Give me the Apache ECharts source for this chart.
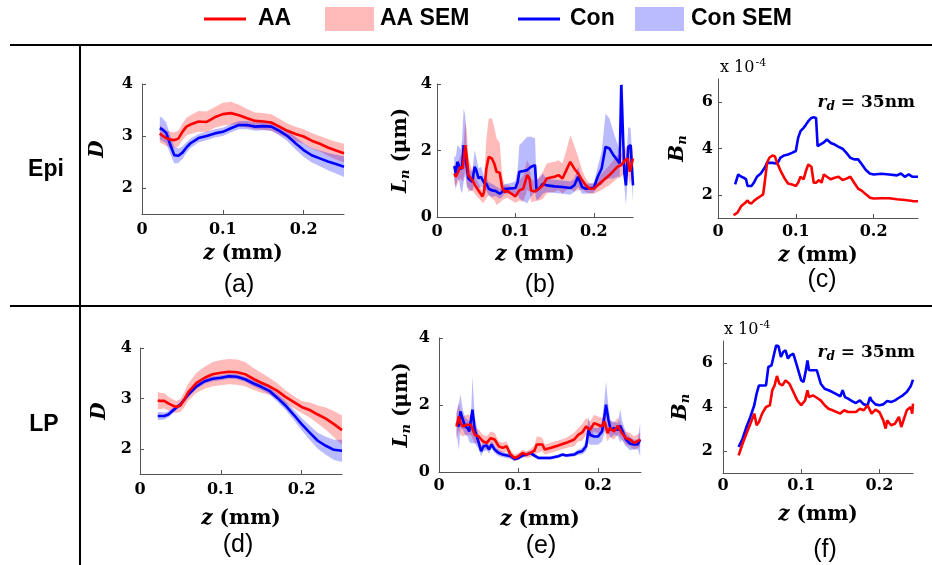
<!DOCTYPE html>
<html><head><meta charset="utf-8">
<script src="https://cdn.jsdelivr.net/npm/echarts@6/dist/echarts.min.js"></script>
<style>html,body{margin:0;padding:0;background:#fff}#c{width:932px;height:565px}</style>
</head><body><div id="c"></div>
<script>
// ---------- tick values / labels ----------
const xTicks = [0, 0.1, 0.2];
const xTickLabels = ['0', '0.1', '0.2'];
const yTicksD = [2, 3, 4];
const yTicksL = [0, 2, 4];
const yTicksB = [2, 4, 6];

// ---------- (a) Epi, D ----------
const zA = [0.022,0.025,0.030,0.035,0.040,0.045,0.050,0.055,0.060,0.070,0.080,0.090,0.100,0.110,0.120,0.130,0.140,0.150,0.160,0.170,0.180,0.190,0.200,0.210,0.220,0.230,0.240,0.250];
const aaMeanA = [3.05,3.01,2.96,2.93,2.92,2.95,3.08,3.18,3.22,3.28,3.27,3.36,3.42,3.44,3.40,3.34,3.29,3.28,3.26,3.18,3.10,3.04,2.99,2.91,2.85,2.78,2.72,2.67];
const aaSemA = [0.17,0.16,0.15,0.15,0.15,0.15,0.16,0.17,0.18,0.2,0.2,0.2,0.22,0.22,0.2,0.18,0.16,0.16,0.16,0.15,0.14,0.14,0.14,0.15,0.15,0.16,0.17,0.18];
const conMeanA = [3.15,3.13,3.06,2.83,2.63,2.62,2.68,2.78,2.86,2.96,3.0,3.05,3.08,3.15,3.21,3.21,3.18,3.19,3.18,3.10,3.0,2.86,2.73,2.63,2.57,2.51,2.46,2.41];
const conSemA = [0.22,0.22,0.2,0.18,0.16,0.14,0.12,0.1,0.09,0.08,0.08,0.08,0.08,0.08,0.08,0.08,0.08,0.08,0.08,0.09,0.1,0.12,0.13,0.14,0.15,0.17,0.18,0.2];

// ---------- (b) Epi, Ln ----------
const zAAB = [0.022,0.024,0.027,0.030,0.033,0.036,0.038,0.040,0.045,0.050,0.055,0.058,0.060,0.063,0.066,0.070,0.073,0.076,0.080,0.083,0.086,0.090,0.095,0.100,0.105,0.110,0.115,0.118,0.120,0.125,0.130,0.135,0.140,0.145,0.150,0.155,0.160,0.165,0.170,0.175,0.180,0.185,0.190,0.195,0.200,0.210,0.220,0.230,0.235,0.240,0.243,0.246,0.250];
const aaMeanB = [1.31,1.21,1.36,1.51,1.46,2.16,1.81,1.26,1.11,0.90,0.72,0.62,0.75,1.46,1.81,1.76,1.61,1.36,1.33,0.90,0.75,0.78,0.70,0.62,0.80,0.85,1.26,1.16,0.80,0.77,0.85,0.95,1.16,1.19,1.21,1.26,1.16,1.41,1.66,1.46,1.31,1.11,0.95,0.85,0.85,1.06,1.26,1.51,1.56,1.71,1.76,1.36,1.76];
const aaSemB = [0.3,0.3,0.3,0.35,0.4,0.75,0.8,0.5,0.3,0.25,0.2,0.2,0.3,0.9,1.15,1.2,1.1,1.0,0.9,0.4,0.2,0.2,0.2,0.2,0.3,0.4,0.45,0.4,0.35,0.3,0.35,0.4,0.45,0.45,0.45,0.45,0.45,0.6,0.8,0.7,0.5,0.3,0.2,0.15,0.15,0.25,0.3,0.35,0.35,0.35,0.4,0.4,0.4];
const zConB = [0.022,0.024,0.026,0.028,0.030,0.032,0.034,0.036,0.038,0.040,0.045,0.048,0.050,0.053,0.056,0.060,0.063,0.066,0.070,0.075,0.080,0.083,0.086,0.090,0.100,0.103,0.105,0.110,0.115,0.120,0.125,0.127,0.130,0.135,0.140,0.150,0.160,0.170,0.175,0.180,0.185,0.190,0.200,0.205,0.210,0.215,0.220,0.225,0.230,0.233,0.235,0.237,0.239,0.241,0.244,0.247,0.250];
const conMeanB = [1.53,1.31,1.66,1.61,1.43,1.51,2.16,2.16,1.51,1.16,1.06,1.51,1.41,1.16,1.21,1.03,1.00,0.85,0.80,0.78,0.70,0.75,0.85,0.85,0.87,1.06,1.36,1.38,1.41,1.51,1.56,0.80,0.85,1.00,0.95,0.92,0.90,0.87,0.95,1.21,0.90,0.85,0.88,1.21,1.46,2.11,2.06,1.86,1.71,1.61,3.97,3.97,1.31,0.95,2.11,2.16,0.95];
const conSemB = [0.3,0.5,0.5,0.5,0.6,0.8,1.1,0.9,0.6,0.3,0.3,0.5,0.4,0.3,0.3,0.2,0.2,0.2,0.2,0.15,0.15,0.15,0.15,0.15,0.2,0.4,0.8,0.9,1.0,0.9,0.8,0.3,0.3,0.3,0.2,0.2,0.2,0.2,0.2,0.3,0.2,0.15,0.15,0.3,0.5,1.0,0.9,0.7,0.5,0.4,0.4,0.4,0.4,0.6,0.6,0.5,0.5];

// ---------- (c) Epi, Bn (x 10^-4) ----------
const zAAC = [0.020,0.025,0.030,0.035,0.038,0.040,0.043,0.046,0.050,0.055,0.058,0.060,0.063,0.066,0.070,0.073,0.076,0.080,0.085,0.090,0.095,0.100,0.103,0.106,0.110,0.113,0.116,0.120,0.123,0.126,0.130,0.133,0.136,0.140,0.145,0.150,0.155,0.160,0.165,0.170,0.175,0.180,0.185,0.190,0.195,0.200,0.210,0.220,0.230,0.240,0.250,0.257];
const aaMeanC = [1.12,1.23,1.52,1.66,1.76,1.66,1.63,1.73,1.84,1.95,2.02,2.52,3.38,3.60,3.70,3.67,3.38,3.07,2.74,2.49,2.45,2.38,2.52,2.78,2.67,3.03,3.31,3.21,2.52,2.52,2.64,2.52,2.88,2.78,2.67,2.74,2.78,2.64,2.70,2.78,2.52,2.27,2.17,2.02,1.88,1.84,1.85,1.85,1.81,1.78,1.73,1.72];
const zConC = [0.022,0.024,0.026,0.028,0.030,0.033,0.036,0.038,0.040,0.043,0.046,0.050,0.055,0.060,0.063,0.066,0.070,0.075,0.078,0.080,0.085,0.090,0.095,0.100,0.103,0.106,0.110,0.113,0.116,0.120,0.123,0.126,0.128,0.130,0.135,0.140,0.145,0.150,0.155,0.160,0.165,0.170,0.175,0.180,0.185,0.190,0.195,0.200,0.210,0.220,0.230,0.235,0.240,0.245,0.250,0.257];
const conMeanC = [2.45,2.52,2.88,2.92,2.78,2.74,2.67,2.38,2.34,2.38,2.52,2.78,2.92,3.17,3.38,3.38,3.38,3.35,3.45,3.60,3.70,3.74,3.81,3.89,4.46,4.75,4.89,5.03,5.18,5.32,5.35,5.32,4.10,4.10,4.24,4.39,4.24,4.17,4.07,3.99,3.81,3.60,3.53,3.53,3.31,3.07,2.92,2.88,2.91,2.88,2.84,2.92,2.78,2.88,2.78,2.78];

// ---------- (d) LP, D ----------
const zD = [0.022,0.025,0.030,0.035,0.040,0.045,0.050,0.055,0.060,0.070,0.080,0.090,0.100,0.110,0.120,0.130,0.140,0.150,0.160,0.170,0.180,0.190,0.200,0.210,0.220,0.230,0.240,0.250];
const aaMeanD = [2.96,2.95,2.95,2.90,2.86,2.83,2.86,2.98,3.13,3.31,3.41,3.48,3.51,3.53,3.52,3.48,3.39,3.31,3.24,3.15,3.03,2.93,2.83,2.77,2.68,2.60,2.49,2.37];
const aaSemD = [0.17,0.16,0.15,0.14,0.13,0.12,0.13,0.15,0.17,0.2,0.22,0.24,0.25,0.25,0.25,0.24,0.22,0.2,0.17,0.15,0.13,0.12,0.12,0.15,0.18,0.22,0.26,0.29];
const conMeanD = [2.65,2.65,2.65,2.68,2.75,2.82,2.88,2.98,3.08,3.24,3.34,3.39,3.41,3.44,3.43,3.38,3.30,3.23,3.15,3.01,2.86,2.68,2.49,2.32,2.16,2.06,1.98,1.96];
const conSemD = [0.08,0.08,0.07,0.06,0.06,0.05,0.05,0.05,0.05,0.05,0.05,0.05,0.05,0.05,0.05,0.05,0.06,0.06,0.07,0.08,0.09,0.1,0.12,0.14,0.16,0.18,0.2,0.22];

// ---------- (e) LP, Ln ----------
const zAAE = [0.022,0.025,0.027,0.030,0.035,0.040,0.045,0.050,0.055,0.060,0.065,0.070,0.075,0.080,0.085,0.090,0.095,0.100,0.105,0.110,0.115,0.120,0.123,0.130,0.133,0.140,0.150,0.160,0.170,0.175,0.180,0.185,0.190,0.195,0.200,0.205,0.208,0.212,0.215,0.220,0.225,0.230,0.235,0.240,0.245,0.250,0.253];
const aaMeanE = [1.36,1.66,1.46,1.36,1.41,1.41,1.11,1.06,0.92,0.87,1.01,0.97,0.77,0.72,0.77,0.52,0.42,0.47,0.57,0.52,0.57,0.64,0.82,0.82,0.67,0.72,0.79,0.87,0.97,1.11,1.18,1.36,1.26,1.46,1.41,1.36,1.51,1.16,1.31,1.21,1.38,1.16,1.01,0.97,0.87,0.92,0.97];
const aaSemE = [0.4,0.4,0.35,0.3,0.3,0.3,0.25,0.2,0.2,0.2,0.2,0.2,0.15,0.15,0.15,0.12,0.1,0.1,0.1,0.1,0.12,0.15,0.25,0.2,0.15,0.15,0.15,0.15,0.2,0.2,0.25,0.25,0.25,0.25,0.25,0.25,0.25,0.25,0.25,0.25,0.25,0.2,0.2,0.2,0.2,0.2,0.2];
const zConE = [0.022,0.025,0.027,0.030,0.033,0.036,0.038,0.040,0.042,0.045,0.050,0.053,0.056,0.060,0.063,0.066,0.070,0.075,0.080,0.090,0.095,0.100,0.105,0.110,0.115,0.120,0.125,0.130,0.140,0.150,0.155,0.160,0.170,0.175,0.180,0.185,0.188,0.190,0.195,0.200,0.205,0.208,0.210,0.213,0.216,0.220,0.225,0.228,0.230,0.235,0.240,0.245,0.250,0.253];
const conMeanE = [1.46,1.36,1.81,1.56,1.36,1.31,1.21,1.16,1.86,1.26,0.87,0.62,0.77,0.79,0.67,0.82,0.67,0.57,0.52,0.47,0.39,0.42,0.49,0.52,0.57,0.49,0.42,0.42,0.42,0.47,0.52,0.49,0.52,0.59,0.62,0.77,1.26,1.11,1.06,1.06,1.21,1.66,2.01,1.56,1.26,1.31,1.26,1.38,1.26,0.97,0.85,0.82,0.82,0.97];
const conSemE = [0.3,0.7,0.5,0.3,0.25,0.25,0.3,0.3,1.0,0.4,0.2,0.15,0.15,0.15,0.12,0.12,0.1,0.1,0.08,0.08,0.06,0.06,0.06,0.06,0.06,0.06,0.05,0.05,0.05,0.05,0.05,0.05,0.06,0.08,0.1,0.15,0.4,0.3,0.25,0.25,0.3,0.5,0.7,0.4,0.25,0.2,0.2,0.5,0.3,0.2,0.2,0.15,0.15,0.5];

// ---------- (f) LP, Bn (x 10^-4) ----------
const zAAF = [0.020,0.025,0.030,0.035,0.040,0.043,0.046,0.050,0.055,0.060,0.063,0.066,0.069,0.072,0.076,0.080,0.085,0.090,0.095,0.100,0.105,0.108,0.110,0.115,0.120,0.125,0.130,0.135,0.140,0.150,0.155,0.160,0.170,0.175,0.180,0.185,0.190,0.195,0.200,0.205,0.208,0.210,0.215,0.220,0.225,0.228,0.230,0.235,0.240,0.242,0.243];
const aaMeanF = [1.80,2.33,2.79,3.24,3.70,3.17,3.32,3.70,4.00,4.08,4.76,4.98,5.41,5.06,4.98,5.21,5.06,4.68,4.30,4.08,4.30,4.76,4.45,4.53,4.42,4.30,4.08,3.92,3.85,3.70,3.85,3.77,3.77,3.92,3.85,4.08,3.70,3.88,3.77,3.39,3.02,3.39,3.17,3.24,3.55,3.09,3.09,3.85,4.00,3.70,4.15];
const zConF = [0.020,0.025,0.030,0.035,0.040,0.043,0.046,0.050,0.055,0.058,0.062,0.065,0.068,0.071,0.074,0.077,0.080,0.083,0.086,0.090,0.095,0.100,0.103,0.106,0.108,0.110,0.115,0.120,0.125,0.130,0.135,0.140,0.145,0.150,0.153,0.156,0.160,0.165,0.170,0.175,0.180,0.185,0.188,0.190,0.195,0.200,0.205,0.210,0.215,0.220,0.225,0.230,0.235,0.240,0.243];
const conMeanF = [2.18,2.56,3.09,3.55,4.08,4.61,4.98,4.98,4.98,5.82,5.89,6.35,6.80,6.76,6.27,6.50,6.58,6.20,6.35,6.42,5.82,5.21,5.14,5.67,6.12,5.67,5.67,5.67,5.06,4.83,4.76,4.68,4.58,4.48,4.76,4.45,4.38,4.27,4.18,4.30,4.12,4.08,4.45,4.30,4.12,4.08,4.12,4.27,4.23,4.30,4.42,4.53,4.68,4.94,5.24];

// ---------- styling ----------
const RED = '#ff0000', BLUE = '#0000ff';
const PINK = 'rgba(255,0,0,0.27)', LBLUE = 'rgba(0,0,255,0.27)';
const SERIF = 'DejaVu Serif', SANS = 'Liberation Sans';
const AX = '#555';

function pairs(z, v) { return z.map((x, i) => [x, v[i]]); }

// mean ± SEM band, drawn as one polygon through the axis scales
function bandSeries(name, idx, z, mean, sem, color) {
  const data = z.map((x, i) => [x, mean[i] - sem[i], mean[i] + sem[i]]);
  return {
    name: name, type: 'custom', xAxisIndex: idx, yAxisIndex: idx, data: data,
    encode: { x: 0, y: [1, 2] }, clip: true, silent: true, z: 1,
    itemStyle: { color: color },
    renderItem: function (params, api) {
      if (params.dataIndexInside !== 0) return null;
      const n = params.dataInsideLength;
      const up = [], lo = [];
      for (let k = 0; k < n; k++) {
        up.push(api.coord([api.value(0, k), api.value(2, k)]));
        lo.push(api.coord([api.value(0, k), api.value(1, k)]));
      }
      return { type: 'polygon', shape: { points: up.concat(lo.reverse()) }, style: { fill: color } };
    }
  };
}
function lineSeries(name, idx, z, mean, color) {
  return { name: name, type: 'line', xAxisIndex: idx, yAxisIndex: idx, data: pairs(z, mean),
    symbol: 'none', lineStyle: { color: color, width: 2.6 }, itemStyle: { color: color }, z: 3 };
}

const grids = [
  { left: 142, top: 84, width: 202, height: 130 },
  { left: 437, top: 84, width: 196, height: 133 },
  { left: 718, top: 79, width: 200, height: 139 },
  { left: 140, top: 348, width: 202, height: 126 },
  { left: 439, top: 338, width: 202, height: 134 },
  { left: 723, top: 341, width: 190, height: 132 }
];
const xMax = [0.25, 0.25, 0.257, 0.25, 0.254, 0.243];
const xNameGap = [30, 28, 28, 35, 38, 32];
const xLabelMargin = [8, 7, 6, 8, 6, 5];

const nameRich = {
  i: { fontFamily: SERIF, fontStyle: 'italic', fontWeight: 'bold', fontSize: 20, color: '#000' },
  r: { fontFamily: SERIF, fontWeight: 'bold', fontSize: 20, color: '#000' },
  sub: { fontFamily: SERIF, fontStyle: 'italic', fontWeight: 'bold', fontSize: 13, color: '#000', padding: [9, 0, 0, 0] }
};

const xAxes = grids.map((g, i) => ({
  gridIndex: i, type: 'value', min: 0, max: xMax[i],
  axisLine: { lineStyle: { color: AX, width: 1 } },
  axisTick: { inside: true, length: 4, customValues: xTicks, lineStyle: { color: AX } },
  axisLabel: { customValues: xTicks, margin: xLabelMargin[i], color: '#000', fontFamily: SERIF, fontWeight: 'bold', fontSize: 16,
    formatter: v => xTickLabels[xTicks.indexOf(v)] },
  splitLine: { show: false },
  name: '{i|z}{r| (mm)}', nameLocation: 'middle', nameGap: xNameGap[i],
  nameTextStyle: { rich: nameRich }
}));

const yCfg = [
  { min: 1.5, max: 4, ticks: yTicksD, name: '{i|D}', gap: 34, margin: 9 },
  { min: 0, max: 4, ticks: yTicksL, name: '{i|L}{sub|n}{r| (μm)}', gap: 25, margin: 5 },
  { min: 1, max: 7, ticks: yTicksB, name: '{i|B}{sub|n}', gap: 29, margin: 5 },
  { min: 1.5, max: 4, ticks: yTicksD, name: '{i|D}', gap: 30, margin: 8 },
  { min: 0, max: 4, ticks: yTicksL, name: '{i|L}{sub|n}{r| (μm)}', gap: 26, margin: 9 },
  { min: 1, max: 7, ticks: yTicksB, name: '{i|B}{sub|n}', gap: 31, margin: 10 }
];
const yAxes = yCfg.map((c, i) => ({
  gridIndex: i, type: 'value', min: c.min, max: c.max,
  axisLine: { show: true, lineStyle: { color: AX, width: 1 } },
  axisTick: { show: true, inside: true, length: 4, customValues: c.ticks, lineStyle: { color: AX } },
  axisLabel: { customValues: c.ticks, margin: c.margin, color: '#000', fontFamily: SERIF, fontWeight: 'bold', fontSize: 16 },
  splitLine: { show: false },
  name: c.name, nameLocation: 'middle', nameRotate: 90, nameGap: c.gap,
  nameTextStyle: { rich: nameRich }
}));

const series = [].concat(
  bandSeries('AA SEM', 0, zA, aaMeanA, aaSemA, PINK),
  bandSeries('Con SEM', 0, zA, conMeanA, conSemA, LBLUE),
  lineSeries('Con', 0, zA, conMeanA, BLUE),
  lineSeries('AA', 0, zA, aaMeanA, RED),

  bandSeries('AA SEM', 1, zAAB, aaMeanB, aaSemB, PINK),
  bandSeries('Con SEM', 1, zConB, conMeanB, conSemB, LBLUE),
  lineSeries('Con', 1, zConB, conMeanB, BLUE),
  lineSeries('AA', 1, zAAB, aaMeanB, RED),

  lineSeries('Con', 2, zConC, conMeanC, BLUE),
  lineSeries('AA', 2, zAAC, aaMeanC, RED),

  bandSeries('AA SEM', 3, zD, aaMeanD, aaSemD, PINK),
  bandSeries('Con SEM', 3, zD, conMeanD, conSemD, LBLUE),
  lineSeries('Con', 3, zD, conMeanD, BLUE),
  lineSeries('AA', 3, zD, aaMeanD, RED),

  bandSeries('AA SEM', 4, zAAE, aaMeanE, aaSemE, PINK),
  bandSeries('Con SEM', 4, zConE, conMeanE, conSemE, LBLUE),
  lineSeries('Con', 4, zConE, conMeanE, BLUE),
  lineSeries('AA', 4, zAAE, aaMeanE, RED),

  lineSeries('Con', 5, zConF, conMeanF, BLUE),
  lineSeries('AA', 5, zAAF, aaMeanF, RED)
);

const legTxt = { fontFamily: SANS, fontWeight: 'bold', fontSize: 23, color: '#000', lineHeight: 24 };
const legends = [
  { left: 204, top: 7, icon: 'rect', itemWidth: 42, itemHeight: 3,
    data: [{ name: 'AA', itemStyle: { color: RED } }], textStyle: Object.assign({ padding: [0, 0, 0, 7] }, legTxt) },
  { left: 325, top: 7, icon: 'rect', itemWidth: 49, itemHeight: 24,
    data: [{ name: 'AA SEM', itemStyle: { color: PINK, borderWidth: 0 } }], textStyle: Object.assign({ padding: [0, 0, 0, 1] }, legTxt) },
  { left: 518, top: 7, icon: 'rect', itemWidth: 42, itemHeight: 3,
    data: [{ name: 'Con', itemStyle: { color: BLUE } }], textStyle: Object.assign({ padding: [0, 0, 0, 5] }, legTxt) },
  { left: 635, top: 7, icon: 'rect', itemWidth: 49, itemHeight: 24,
    data: [{ name: 'Con SEM', itemStyle: { color: LBLUE, borderWidth: 0 } }], textStyle: Object.assign({ padding: [0, 0, 0, 2] }, legTxt) }
];
legends.forEach(l => { l.padding = 0; l.itemGap = 0; l.selectedMode = false; });

function txt(x, y, text, font, align, rich) {
  return { type: 'text', x: x, y: y, silent: true,
    style: { text: text, font: font, fill: '#000', align: align || 'center', verticalAlign: 'middle', rich: rich } };
}
const smallRich = {
  n: { fontFamily: SERIF, fontSize: 16, color: '#000' },
  sup: { fontFamily: SERIF, fontSize: 11, color: '#000', padding: [0, 0, 10, 1] },
  i: { fontFamily: SERIF, fontStyle: 'italic', fontWeight: 'bold', fontSize: 17, color: '#000' },
  sub: { fontFamily: SERIF, fontStyle: 'italic', fontWeight: 'bold', fontSize: 12, color: '#000', padding: [8, 0, 0, 0] },
  b: { fontFamily: SERIF, fontWeight: 'bold', fontSize: 17, color: '#000' }
};

const graphic = [
  { type: 'line', silent: true, shape: { x1: 10, y1: 45, x2: 932, y2: 45 }, style: { stroke: '#000', lineWidth: 2 } },
  { type: 'line', silent: true, shape: { x1: 10, y1: 306, x2: 932, y2: 306 }, style: { stroke: '#000', lineWidth: 2 } },
  { type: 'line', silent: true, shape: { x1: 80, y1: 45, x2: 80, y2: 565 }, style: { stroke: '#000', lineWidth: 2 } },
  txt(46, 170, 'Epi', 'bold 23px "Liberation Sans"'),
  txt(44, 425, 'LP', 'bold 23px "Liberation Sans"'),
  txt(239, 285, '(a)', '25px "Liberation Sans"'),
  txt(540, 285, '(b)', '25px "Liberation Sans"'),
  txt(822, 280, '(c)', '25px "Liberation Sans"'),
  txt(238, 545, '(d)', '25px "Liberation Sans"'),
  txt(541, 546, '(e)', '25px "Liberation Sans"'),
  txt(825, 550, '(f)', '25px "Liberation Sans"'),
  txt(720, 68, '{n|x 10}{sup|-4}', '16px "DejaVu Serif"', 'left', smallRich),
  txt(724, 330, '{n|x 10}{sup|-4}', '16px "DejaVu Serif"', 'left', smallRich),
  txt(915, 103, '{i|r}{sub|d}{b| = 35nm}', 'bold 17px "DejaVu Serif"', 'right', smallRich),
  txt(915, 353, '{i|r}{sub|d}{b| = 35nm}', 'bold 17px "DejaVu Serif"', 'right', smallRich)
];

const chart = echarts.init(document.getElementById('c'), null, { renderer: 'canvas' });
chart.setOption({
  animation: false,
  backgroundColor: '#fff',
  legend: legends,
  grid: grids,
  xAxis: xAxes,
  yAxis: yAxes,
  series: series,
  graphic: graphic
});
</script></body></html>
